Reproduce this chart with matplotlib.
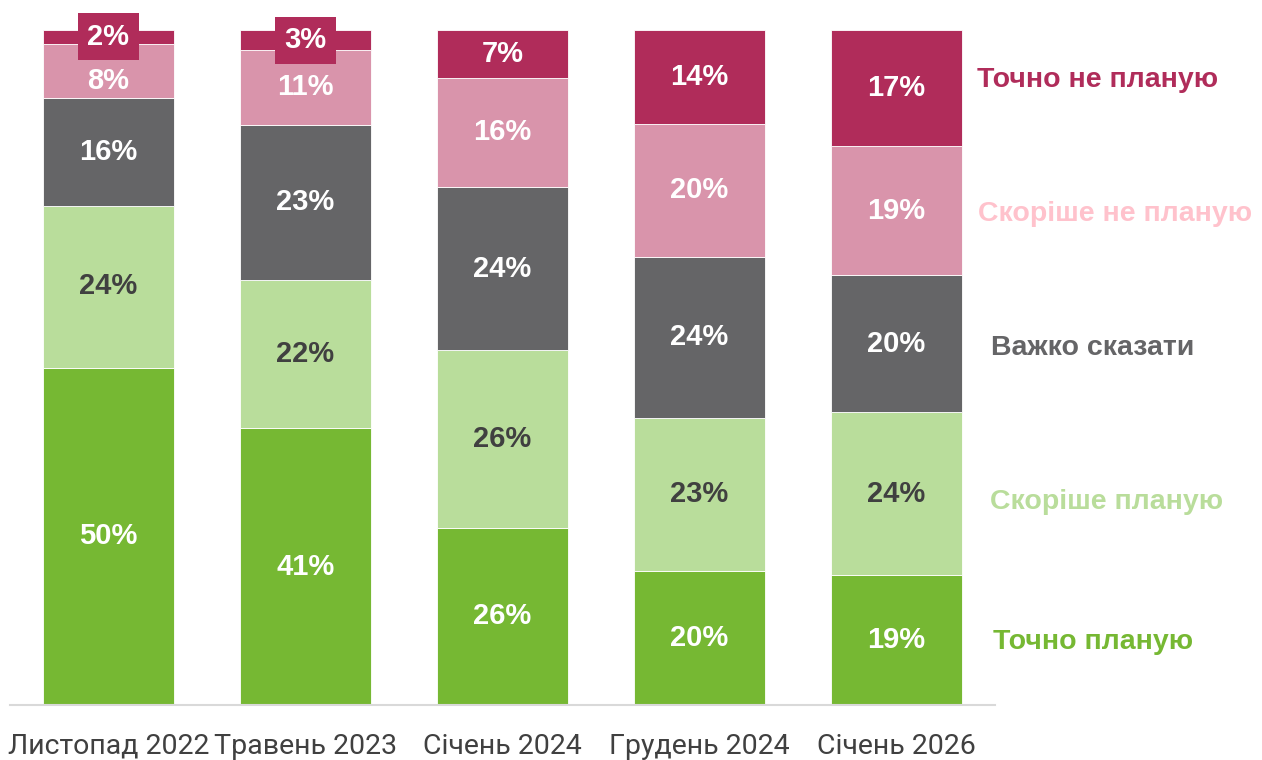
import matplotlib.pyplot as plt
import numpy as np

periods = ['Листопад 2022', 'Травень 2023', 'Січень 2024', 'Грудень 2024', 'Січень 2026']
answers = ['Точно планую', 'Скоріше планую', 'Важко сказати', 'Скоріше не планую', 'Точно не планую']

# values per answer, one number for each period (%)
definitely_yes = [50, 41, 26, 20, 19]
rather_yes = [24, 22, 26, 23, 24]
hard_to_say = [16, 23, 24, 24, 20]
rather_no = [8, 11, 16, 20, 19]
definitely_no = [2, 3, 7, 14, 17]

bar_colors = ['#76B833', '#B9DD9B', '#656567', '#D994AB', '#B02C5A']
label_colors = ['white', '#404040', 'white', 'white', 'white']
legend_colors = ['#76B833', '#B9DD9B', '#656567', '#FFC2CC', '#B02C5A']
# small nudges (pixels) for the answer names next to the last bar
name_dx = [-2, -5, -4, -17, -18]
name_dy = [-2, -8, -4, -3, 8]

series = np.array([definitely_yes, rather_yes, hard_to_say, rather_no, definitely_no], dtype=float)
# bars are shown as 100% stacked
shares = series / series.sum(axis=0) * 100

fig = plt.figure(figsize=(12.62, 7.6), dpi=100)
ax = fig.add_axes([10 / 1262, 55 / 760, 985 / 1262, 675 / 760])

x = np.arange(len(periods))
bottom = np.zeros(len(periods))
for i in range(len(answers)):
    ax.bar(x, shares[i], bottom=bottom, width=0.67, color=bar_colors[i],
           edgecolor='white', linewidth=0.6)
    for j in range(len(periods)):
        yc = bottom[j] + shares[i][j] / 2
        txt = f'{int(series[i][j])}%'
        if series[i][j] < 5:
            ax.text(x[j], yc, txt, ha='center', va='center', color='white',
                    fontsize=21, fontweight='bold', family='Liberation Sans',
                    bbox=dict(facecolor=bar_colors[i], edgecolor='none', pad=7))
        else:
            # keep clear of a boxed label sitting just above
            if i + 1 < len(answers) and series[i + 1][j] < 5:
                box_y = bottom[j] + shares[i][j] + shares[i + 1][j] / 2
                yc = min(yc, box_y - 6.5)
            ax.text(x[j], yc, txt, ha='center', va='center', color=label_colors[i],
                    fontsize=21, fontweight='bold', family='Liberation Sans')
    bottom += shares[i]

# answer names to the right of the last bar
last_bottom = 0
for i in range(len(answers)):
    yc = last_bottom + shares[i][-1] / 2
    last_bottom += shares[i][-1]
    ax.annotate(answers[i], xy=(4.5, yc), xytext=(name_dx[i], name_dy[i]),
                textcoords='offset pixels', ha='left', va='center',
                color=legend_colors[i], fontsize=20.5, fontweight='bold',
                family='Liberation Sans', annotation_clip=False)

ax.set_xlim(-0.5, 4.5)
ax.set_ylim(0, 100)
ax.set_xticks(x)
ax.set_xticklabels(periods, fontsize=20.5, family='Roboto', color='#404040')
ax.tick_params(axis='x', length=0, pad=20)
ax.set_yticks([])
for side in ['top', 'right', 'left']:
    ax.spines[side].set_visible(False)
ax.spines['bottom'].set_color('#D9D9D9')
ax.spines['bottom'].set_linewidth(1.5)

fig.savefig('out.png', dpi=100)
